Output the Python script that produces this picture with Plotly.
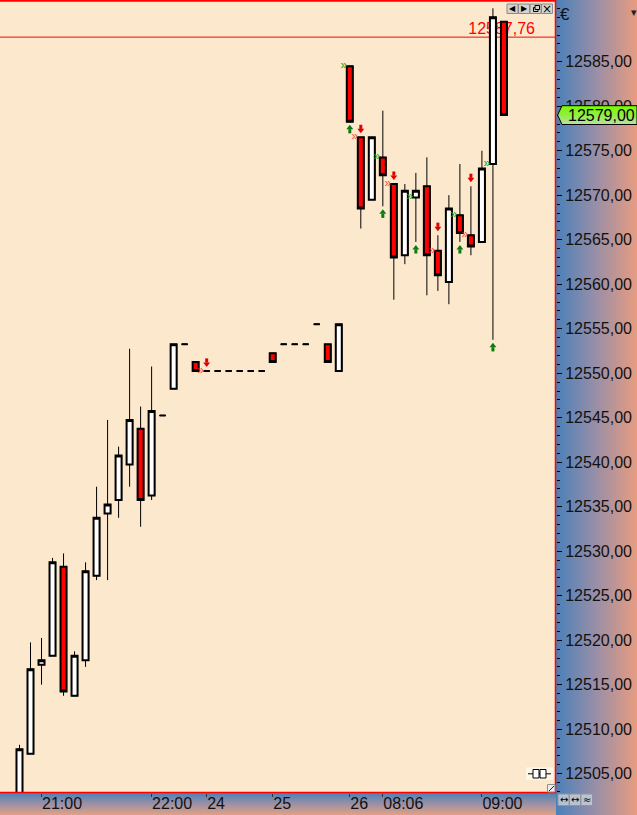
import base64
import plotly.graph_objects as go

# ---------------- data ----------------
bars = list(range(45))
opens = [12502.0, 12507.25, 12517.25, 12518.25, 12528.25, 12513.75, 12517.75, 12527.25, 12534.25, 12535.75,
         12539.75, 12543.75, 12536.25, 12545.25, 12548.25, 12553.25, 12551.25, 12550.25, 12550.25, 12550.25,
         12550.25, 12550.25, 12550.25, 12552.25, 12553.25, 12553.25, 12553.25, 12555.5, 12553.25, 12550.25,
         12584.5, 12576.5, 12569.5, 12574.25, 12571.25, 12563.25, 12569.75, 12571.0, 12563.75, 12560.25,
         12567.75, 12565.5, 12564.75, 12573.5, 12589.5]
highs = [12508.25, 12519.75, 12520.25, 12529.25, 12529.75, 12518.75, 12528.75, 12537.25, 12544.75, 12541.75,
         12552.75, 12546.25, 12550.75, 12545.25, 12553.25, 12553.25, 12551.25, 12550.25, 12550.25, 12550.25,
         12550.25, 12550.25, 12550.25, 12552.25, 12553.25, 12553.25, 12553.25, 12555.5, 12553.25, 12555.5,
         12584.5, 12576.5, 12576.5, 12579.5, 12571.25, 12571.25, 12572.5, 12574.25, 12565.5, 12570.0,
         12573.5, 12571.0, 12575.0, 12591.0, 12589.5]
lows = [12501.5, 12507.25, 12515.0, 12518.25, 12513.75, 12513.75, 12517.0, 12526.75, 12526.75, 12533.75,
        12537.25, 12532.75, 12535.75, 12545.25, 12548.25, 12553.25, 12550.25, 12550.25, 12550.25, 12550.25,
        12550.25, 12550.25, 12550.25, 12551.25, 12553.25, 12553.25, 12553.25, 12555.5, 12551.25, 12550.25,
        12578.25, 12566.25, 12569.5, 12568.75, 12558.25, 12562.25, 12564.75, 12558.75, 12559.25, 12557.75,
        12564.75, 12563.25, 12564.75, 12553.75, 12579.0]
closes = [12507.75, 12516.75, 12517.75, 12528.75, 12514.25, 12518.25, 12527.75, 12533.75, 12535.25, 12540.75,
          12544.75, 12535.75, 12545.75, 12545.25, 12553.25, 12553.25, 12550.25, 12550.25, 12550.25, 12550.25,
          12550.25, 12550.25, 12550.25, 12551.25, 12553.25, 12553.25, 12553.25, 12555.5, 12551.25, 12555.5,
          12578.25, 12568.5, 12576.5, 12572.25, 12563.0, 12570.5, 12570.5, 12563.25, 12561.0, 12568.5,
          12565.75, 12564.25, 12573.0, 12590.0, 12579.0]

time_tick_bars = [2, 12, 17, 23, 30, 33, 42]
time_tick_labels = ["21:00", "22:00", "24", "25", "26", "08:06", "09:00"]
price_ticks = list(range(12505, 12590, 5))
price_minor_ticks = list(range(12503, 12592))
buy_bars = [30, 33, 36, 40, 43]
sell_bars = [17, 31, 34, 38, 41]
ref_level = 12587.76
last_price = closes[-1]

# ---------------- geometry helpers ----------------
W, H = 637, 815
ML, MR, MT, MB = 0, 81, 1, 22
PW, PH = W - ML - MR, H - MT - MB
PX_PER_BAR = 11.01
PX_PER_PT = 8.9
x_first_px = 19.5
x_range = [-x_first_px / PX_PER_BAR, (PW - x_first_px) / PX_PER_BAR]
y_range = [12585 - (MT + PH - 61.7) / PX_PER_PT, 12585 + (61.7 - MT) / PX_PER_PT]


def xp(px):
    return (px - ML) / PW


def yp(py):
    return (MT + PH - py) / PH


def pt(px):
    return px / PX_PER_PT


def euro(v):
    return f"{v:.2f}".replace(".", ",")


def svg_uri(svg):
    return "data:image/svg+xml;base64," + base64.b64encode(svg.encode()).decode()


FONT = "Liberation Sans, Arial, sans-serif"
BG = "#FCE9CD"
GREEN = "#0B7A0B"
RED_ARROW = "#E00000"

fig = go.Figure()

# candles: thin wicks + thicker body outline
fig.add_trace(go.Candlestick(
    x=bars, open=opens, high=highs, low=lows, close=closes,
    increasing=dict(fillcolor="#FFFFFF", line=dict(color="#000000", width=1)),
    decreasing=dict(fillcolor="#FF0000", line=dict(color="#000000", width=1)),
    whiskerwidth=0, hoverinfo="skip", showlegend=False))
fig.add_trace(go.Candlestick(
    x=bars, open=opens, close=closes,
    high=[max(o, c) for o, c in zip(opens, closes)],
    low=[min(o, c) for o, c in zip(opens, closes)],
    increasing=dict(fillcolor="#FFFFFF", line=dict(color="#000000", width=2)),
    decreasing=dict(fillcolor="#FF0000", line=dict(color="#000000", width=2)),
    whiskerwidth=0, hoverinfo="skip", showlegend=False))

# buy arrows (below lows)
buy_c = [lows[i] - pt(7.5) for i in buy_bars]
fig.add_trace(go.Scatter(x=buy_bars, y=[c + pt(1.5) for c in buy_c], mode="markers",
                         marker=dict(symbol="triangle-up", size=6, color=GREEN, line=dict(width=0)),
                         hoverinfo="skip", showlegend=False))
fig.add_trace(go.Scatter(x=buy_bars, y=[c - pt(2) for c in buy_c], mode="markers",
                         marker=dict(symbol="line-ns", size=3, line=dict(width=3, color=GREEN)),
                         hoverinfo="skip", showlegend=False))
# sell arrows (above highs)
sell_c = [highs[i] + pt(8.5) for i in sell_bars]
fig.add_trace(go.Scatter(x=sell_bars, y=[c - pt(1.5) for c in sell_c], mode="markers",
                         marker=dict(symbol="triangle-down", size=6, color=RED_ARROW, line=dict(width=0)),
                         hoverinfo="skip", showlegend=False))
fig.add_trace(go.Scatter(x=sell_bars, y=[c + pt(2) for c in sell_c], mode="markers",
                         marker=dict(symbol="line-ns", size=3, line=dict(width=3, color=RED_ARROW)),
                         hoverinfo="skip", showlegend=False))
# entry markers at the open
fig.add_trace(go.Scatter(x=[i - 0.55 for i in buy_bars], y=[opens[i] for i in buy_bars], mode="text",
                         text=["»"] * len(buy_bars), textposition="middle center",
                         textfont=dict(color="#18A018", size=12, family=FONT),
                         hoverinfo="skip", showlegend=False))
fig.add_trace(go.Scatter(x=[i - 0.55 for i in sell_bars], y=[opens[i] for i in sell_bars], mode="text",
                         text=["»"] * len(sell_bars), textposition="middle center",
                         textfont=dict(color="rgba(255,40,40,0.85)", size=12, family=FONT),
                         hoverinfo="skip", showlegend=False))

shapes = []
# reference level line (below candles) + its label
shapes.append(dict(type="line", xref="paper", yref="y", x0=0, x1=1, y0=ref_level, y1=ref_level,
                   line=dict(color="#FF0000", width=1), layer="below"))
shapes.append(dict(type="line", xref="paper", yref="y", x0=0, x1=xp(535), y0=ref_level, y1=ref_level,
                   line=dict(color="rgba(0,0,0,0)", width=0), layer="below",
                   label=dict(text=euro(ref_level), textposition="end", yanchor="bottom", padding=2,
                              font=dict(color="#FF0000", size=16, family=FONT))))
# red frame
shapes.append(dict(type="line", xref="paper", yref="paper", x0=0, x1=1, y0=yp(0.8), y1=yp(0.8),
                   line=dict(color="#FF0000", width=2), layer="above"))
shapes.append(dict(type="line", xref="paper", yref="paper", x0=xp(555.5), x1=xp(555.5), y0=yp(0), y1=yp(793),
                   line=dict(color="#FF0000", width=1.5), layer="above"))
shapes.append(dict(type="line", xref="paper", yref="paper", x0=0, x1=xp(556), y0=yp(792.5), y1=yp(792.5),
                   line=dict(color="#FF0000", width=1.5), layer="above"))

annotations = []
# window buttons (top right of plot)
btns = [(507, 518), (518.5, 529.5), (530, 541), (541.5, 552.5)]
for (a, b) in btns:
    shapes.append(dict(type="rect", xref="paper", yref="paper", x0=xp(a), x1=xp(b), y0=yp(4), y1=yp(13.5),
                       fillcolor="#D6D3CE", line=dict(color="#8A8A8A", width=1), layer="above"))
for (a, b), g in zip(btns[:2], ["◀", "▶"]):
    annotations.append(dict(x=xp((a + b) / 2), y=yp(8.8), xref="paper", yref="paper", text=g, showarrow=False,
                            font=dict(size=8, color="#000", family="DejaVu Sans"), xanchor="center",
                            yanchor="middle"))
shapes.append(dict(type="rect", xref="paper", yref="paper", x0=xp(533.5), x1=xp(538), y0=yp(7.5), y1=yp(11.5),
                   line=dict(color="#000", width=1), fillcolor="#D6D3CE", layer="above"))
shapes.append(dict(type="rect", xref="paper", yref="paper", x0=xp(535), x1=xp(539.5), y0=yp(5.5), y1=yp(9.5),
                   line=dict(color="#000", width=1), fillcolor="#D6D3CE", layer="above"))
annotations.append(dict(x=xp(547), y=yp(8.8), xref="paper", yref="paper", text="×", showarrow=False,
                        font=dict(size=12, color="#000", family="DejaVu Sans"), xanchor="center", yanchor="middle"))

# resize corner icon
shapes.append(dict(type="rect", xref="paper", yref="paper", x0=xp(547.5), x1=xp(555), y0=yp(784.5), y1=yp(792),
                   fillcolor="#ECECEC", line=dict(color="#909090", width=1), layer="above"))
shapes.append(dict(type="line", xref="paper", yref="paper", x0=xp(549), x1=xp(554), y0=yp(791), y1=yp(786),
                   line=dict(color="#202020", width=1), layer="above"))
# plug icon near bottom right
shapes.append(dict(type="rect", xref="paper", yref="paper", x0=xp(526), x1=xp(553), y0=yp(767.5), y1=yp(780),
                   fillcolor="#FFF6EA", line=dict(width=0), layer="above"))
shapes.append(dict(type="line", xref="paper", yref="paper", x0=xp(528), x1=xp(551), y0=yp(773.8), y1=yp(773.8),
                   line=dict(color="#000", width=1), layer="above"))
shapes.append(dict(type="rect", xref="paper", yref="paper", x0=xp(533), x1=xp(539), y0=yp(769.5), y1=yp(778),
                   fillcolor="#FFFFFF", line=dict(color="#000", width=1), layer="above"))
shapes.append(dict(type="rect", xref="paper", yref="paper", x0=xp(540), x1=xp(546), y0=yp(769.5), y1=yp(778),
                   fillcolor="#FFFFFF", line=dict(color="#000", width=1), layer="above"))

# bottom-right small buttons
for (a, b), g in zip([(558, 569), (569.5, 580.5), (581, 592.5)], ["↔", "↔", "≈"]):
    shapes.append(dict(type="rect", xref="paper", yref="paper", x0=xp(a), x1=xp(b), y0=yp(794), y1=yp(805.5),
                       fillcolor="rgba(200,204,212,0.85)", line=dict(color="#8D95A3", width=1), layer="above"))
    annotations.append(dict(x=xp((a + b) / 2), y=yp(799.5), xref="paper", yref="paper", text=g,
                            showarrow=False, font=dict(size=10, color="#000", family="DejaVu Sans"),
                            xanchor="center", yanchor="middle"))

# axis panel texts
annotations.append(dict(x=xp(558), y=yp(14.5), xref="paper", yref="paper", text="€", showarrow=False,
                        font=dict(size=17, color="#111", family=FONT), xanchor="left", yanchor="middle"))
annotations.append(dict(x=xp(634), y=yp(13), xref="paper", yref="paper", text="▾", showarrow=False,
                        font=dict(size=11, color="#222", family="DejaVu Sans"), xanchor="center",
                        yanchor="middle"))
# last price label text
annotations.append(dict(x=xp(566), y=last_price, xref="paper", yref="y", text=euro(last_price), showarrow=False,
                        font=dict(size=16, color="#000", family=FONT), xanchor="left", yanchor="middle"))

right_svg = ("<svg xmlns='http://www.w3.org/2000/svg' width='81' height='815' viewBox='0 0 81 815' "
             "preserveAspectRatio='none'><defs><linearGradient id='g' x1='0' y1='0' x2='1' y2='0'>"
             "<stop offset='0' stop-color='#4A80BA'/><stop offset='0.5' stop-color='#9A8FA6'/>"
             "<stop offset='1' stop-color='#E89C80'/></linearGradient></defs>"
             "<rect width='81' height='815' fill='url(#g)'/></svg>")
bottom_svg = ("<svg xmlns='http://www.w3.org/2000/svg' width='556' height='22' viewBox='0 0 556 22' "
              "preserveAspectRatio='none'><defs><linearGradient id='g' x1='0' y1='0' x2='0' y2='1'>"
              "<stop offset='0' stop-color='#4D80B6'/><stop offset='0.5' stop-color='#9C91A4'/>"
              "<stop offset='1' stop-color='#E2A086'/></linearGradient></defs>"
              "<rect width='556' height='22' fill='url(#g)'/></svg>")
label_svg = ("<svg xmlns='http://www.w3.org/2000/svg' width='80' height='20' viewBox='0 0 80 20' "
             "preserveAspectRatio='none'><defs><linearGradient id='g' x1='0' y1='0' x2='0' y2='1'>"
             "<stop offset='0' stop-color='#78FA00'/><stop offset='0.5' stop-color='#90EE40'/>"
             "<stop offset='1' stop-color='#BCE0A8'/></linearGradient></defs>"
             "<polygon points='0.6,10 5,0.6 80,0.6 80,19.4 5,19.4' fill='url(#g)' stroke='#000' "
             "stroke-width='1'/></svg>")

images = [
    dict(source=svg_uri(right_svg), xref="paper", yref="paper", x=xp(556), y=yp(0), sizex=81 / PW,
         sizey=815 / PH, xanchor="left", yanchor="top", sizing="stretch", layer="below"),
    dict(source=svg_uri(bottom_svg), xref="paper", yref="paper", x=0, y=yp(793), sizex=1, sizey=22 / PH,
         xanchor="left", yanchor="top", sizing="stretch", layer="below"),
    dict(source=svg_uri(label_svg), xref="paper", yref="y", x=xp(557), y=last_price, sizex=80 / PW,
         sizey=pt(20), xanchor="left", yanchor="middle", sizing="stretch", layer="above"),
]

fig.update_layout(
    template="none",
    width=W, height=H,
    margin=dict(l=ML, r=MR, t=MT, b=MB, pad=0),
    paper_bgcolor=BG, plot_bgcolor=BG,
    font=dict(family=FONT, size=16, color="#111"),
    separators=",.",
    showlegend=False,
    boxgap=0.22, boxgroupgap=0.3,
    shapes=shapes, annotations=annotations, images=images,
    hovermode=False,
    xaxis=dict(range=x_range, type="linear", showgrid=False, zeroline=False, showline=False,
               tickmode="array", tickvals=time_tick_bars, ticktext=time_tick_labels, tickangle=0,
               ticks="outside", ticklen=3, tickwidth=1, tickcolor="#333",
               ticklabelposition="outside right", ticklabelstandoff=-4,
               tickfont=dict(size=16, color="#111", family=FONT),
               rangeslider=dict(visible=False), automargin=False, fixedrange=True),
    yaxis=dict(range=y_range, side="right", showgrid=False, zeroline=False, showline=False,
               tickmode="array", tickvals=price_ticks, tickformat=".2f",
               ticks="outside", ticklen=5, tickwidth=1, tickcolor="#000",
               tickfont=dict(size=16, color="#111", family=FONT),
               minor=dict(tickmode="array", tickvals=price_minor_ticks, ticks="outside", ticklen=3,
                          tickwidth=1, tickcolor="#000", showgrid=False),
               automargin=False, fixedrange=True),
)

fig.write_html("out.html", config={"displayModeBar": False, "staticPlot": True},
               post_script="document.body.style.margin='0';document.body.style.overflow='hidden';")
